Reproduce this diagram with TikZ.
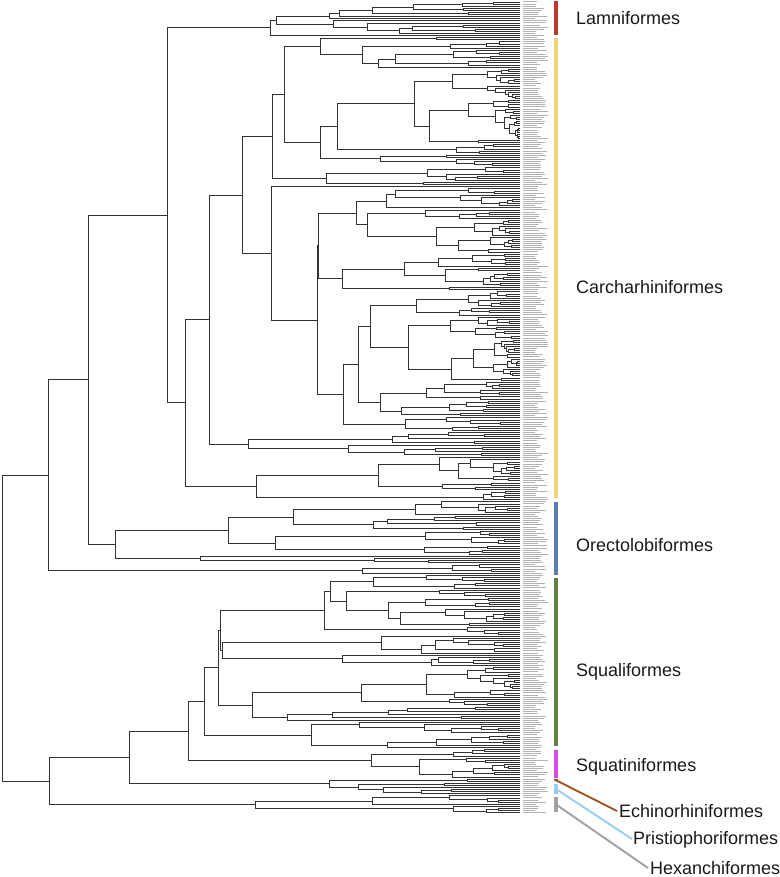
\documentclass[tikz,border=0pt]{standalone}
\usepackage{fontspec}
\setmainfont{Liberation Sans}
\definecolor{lamC}{RGB}{192,57,43}
\definecolor{carC}{RGB}{241,211,122}
\definecolor{oreC}{RGB}{90,125,180}
\definecolor{squC}{RGB}{96,128,66}
\definecolor{sqtC}{RGB}{210,80,230}
\definecolor{echC}{RGB}{160,85,30}
\definecolor{priC}{RGB}{150,205,240}
\definecolor{hexC}{RGB}{160,160,160}
\tikzset{
  br/.style={line width=0.8pt, draw=black!80, line cap=rect},
  lab/.style={line width=1pt, draw=black!30},
  clab/.style={anchor=base west, inner sep=0pt, font=\fontsize{18}{21}\selectfont, text=black!90},
  leader/.style={line width=1.9pt}
}
\def\tipx{520}
% tip: #1 parent x, #2 tip index
\newcommand\Tip[2]{%
  \pgfmathsetmacro\ty{2+2.1*#2}%
  \draw[br] (#1,\ty) -- (\tipx,\ty);%
  \xdef\gA{\ty}}
% random clade: #1 parent x, #2 root x, #3 first tip, #4 last tip
\newcommand\RT[4]{%
  \begingroup
  \pgfmathtruncatemacro\nn{#4-#3+1}%
  \ifnum\nn<2
    \Tip{#1}{#3}%
  \else
    \ifnum\nn=2 \def\kk{1}\else\pgfmathtruncatemacro\kk{random(1,\nn-1)}\fi
    \pgfmathtruncatemacro\ja{#3+\kk-1}%
    \pgfmathtruncatemacro\jb{\ja+1}%
    \pgfmathtruncatemacro\mb{\nn-\kk}%
    \ifnum\kk>1 \pgfmathsetmacro\xa{#2+(\tipx-#2)*(1-sqrt(ln(\kk)/ln(\nn))*(0.5+0.5*rnd))}\else\def\xa{0}\fi
    \ifnum\mb>1 \pgfmathsetmacro\xb{#2+(\tipx-#2)*(1-sqrt(ln(\mb)/ln(\nn))*(0.5+0.5*rnd))}\else\def\xb{0}\fi
    \edef\nexta{\noexpand\RT{#2}{\xa}{#3}{\ja}}\nexta
    \let\aone\gA
    \edef\nextb{\noexpand\RT{#2}{\xb}{\jb}{#4}}\nextb
    \let\atwo\gA
    \draw[br] (#2,\aone) -- (#2,\atwo);%
    \pgfmathsetmacro\am{(\aone+\atwo)/2}%
    \draw[br] (#1,\am) -- (#2,\am);%
    \xdef\gA{\am}%
  \fi
  \endgroup}
% explicit node: #1 parent x, #2 node x, #3 first child, #4 second child
\newcommand\BN[4]{%
  \begingroup
  #3\let\aone\gA
  #4\let\atwo\gA
  \draw[br] (#2,\aone) -- (#2,\atwo);%
  \pgfmathsetmacro\am{(\aone+\atwo)/2}%
  \draw[br] (#1,\am) -- (#2,\am);%
  \xdef\gA{\am}%
  \endgroup}
\begin{document}
\begin{tikzpicture}[x=1pt,y=-1pt]
\useasboundingbox (0,0) rectangle (779,877);
\pgfmathsetseed{11}
% ---------------- tree ----------------
\BN{2}{2}{%
  % Galeomorphii
  \BN{2}{48}{%
    \BN{48}{88}{%
      \BN{88}{167}{%
        % Lamniformes
        \BN{167}{270}{\BN{270}{276}{\RT{276}{329}{0}{8}}{\RT{276}{333}{9}{15}}}{\Tip{270}{16}}%
      }{%
        % Carcharhiniformes
        \BN{167}{185}{%
          \BN{185}{209}{%
            \BN{209}{242}{%
              \BN{242}{272}{%
                \BN{272}{284}{\RT{284}{320}{17}{31}}{\BN{284}{320}{\RT{320}{337}{32}{72}}{\RT{320}{380}{73}{78}}}%
              }{\RT{272}{326}{79}{87}}%
            }{%
              \BN{242}{271}{\Tip{271}{88}}{%
                \BN{271}{317}{%
                  \BN{317}{318}{\RT{318}{356}{89}{119}}{\RT{318}{342}{120}{137}}%
                }{%
                  \BN{317}{343}{\BN{343}{358}{\RT{358}{370}{138}{180}}{\RT{358}{380}{181}{197}}}{\RT{343}{405}{198}{204}}%
                }%
              }%
            }%
          }{%
            \BN{209}{248}{\RT{248}{392}{205}{210}}{\RT{248}{348}{211}{216}}%
          }%
        }{%
          \BN{185}{256}{\RT{256}{378}{217}{232}}{\RT{256}{483}{233}{237}}%
        }%
      }%
    }{%
      % Orectolobiformes
      \BN{88}{115}{%
        \BN{115}{228}{%
          \BN{228}{293}{\RT{293}{415}{238}{244}}{\RT{293}{373}{245}{251}}%
        }{%
          \BN{228}{275}{\RT{275}{425}{252}{258}}{\RT{275}{424}{259}{263}}%
        }%
      }{%
        \BN{115}{200}{\Tip{200}{264}}{\RT{200}{374}{265}{267}}%
      }%
    }%
  }{%
    \BN{48}{362}{\RT{362}{452}{268}{271}}{\Tip{362}{272}}%
  }%
}{%
  % Squalomorphii
  \BN{2}{49}{%
    \BN{49}{129}{%
      \BN{129}{188}{%
        \BN{188}{204}{%
          \BN{204}{218}{%
            \BN{218}{220}{%
              \BN{220}{324}{\RT{324}{330}{273}{297}}{\RT{324}{467}{298}{301}}%
            }{%
              \BN{220}{222}{\RT{222}{381}{302}{310}}{\RT{222}{342}{311}{316}}%
            }%
          }{%
            \BN{218}{252}{\RT{252}{361}{317}{335}}{\RT{252}{287}{336}{342}}%
          }%
        }{\RT{204}{311}{343}{355}}%
      }{%
        % Squatiniformes
        \BN{188}{371}{\RT{371}{453}{356}{359}}{\RT{371}{419}{360}{369}}%
      }%
    }{%
      % Echinorhiniformes + Pristiophoriformes
      \BN{129}{329}{\RT{329}{467}{370}{371}}{\RT{329}{358}{372}{377}}%
    }%
  }{%
    % Hexanchiformes
    \BN{49}{255}{\RT{255}{372}{378}{382}}{\RT{255}{453}{383}{386}}%
  }%
}
% ---------------- tip labels (unreadable, drawn as grey marks) ----------------
\foreach \i in {0,...,386}{%
  \pgfmathsetmacro\ty{2+2.1*\i}%
  \pgfmathsetmacro\ll{12+14*rnd}%
  \draw[lab] (522.5,\ty) -- ++(\ll,0);
}
% ---------------- clade bars ----------------
\fill[lamC] (553.5,1) rectangle (557.5,35.5);
\fill[carC] (553.5,38.5) rectangle (557.5,497.5);
\fill[oreC] (553.5,501.5) rectangle (557.5,574.5);
\fill[squC] (553.5,577.5) rectangle (557.5,745.5);
\fill[sqtC] (553.5,749.5) rectangle (557.5,778);
\fill[echC] (553.5,778.8) rectangle (557.5,781.2);
\fill[priC] (553.5,783.5) rectangle (557.5,793.5);
\fill[hexC] (553.5,796.5) rectangle (557.5,811.5);
% ---------------- clade labels ----------------
\node[clab] (lamL) at (576,24.5) {Lamniformes};
\node[clab] (carL) at (576,293) {Carcharhiniformes};
\node[clab] (oreL) at (576,551) {Orectolobiformes};
\node[clab] (squL) at (576,676) {Squaliformes};
\node[clab] (sqtL) at (576,771.5) {Squatiniformes};
\node[clab] (echL) at (619,817) {Echinorhiniformes};
\node[clab] (priL) at (633,844.5) {Pristiophoriformes};
\node[clab] (hexL) at (650,874) {Hexanchiformes};
% leader lines
\coordinate (echS) at (555.5,780);
\coordinate (echE) at (617,811);
\coordinate (priS) at (556,789);
\coordinate (priE) at (632,839);
\coordinate (hexS) at (556,804.5);
\coordinate (hexE) at (648,868);
\draw[leader, echC] (echS) -- (echE);
\draw[leader, priC] (priS) -- (priE);
\draw[leader, hexC] (hexS) -- (hexE);
\end{tikzpicture}
\end{document}
